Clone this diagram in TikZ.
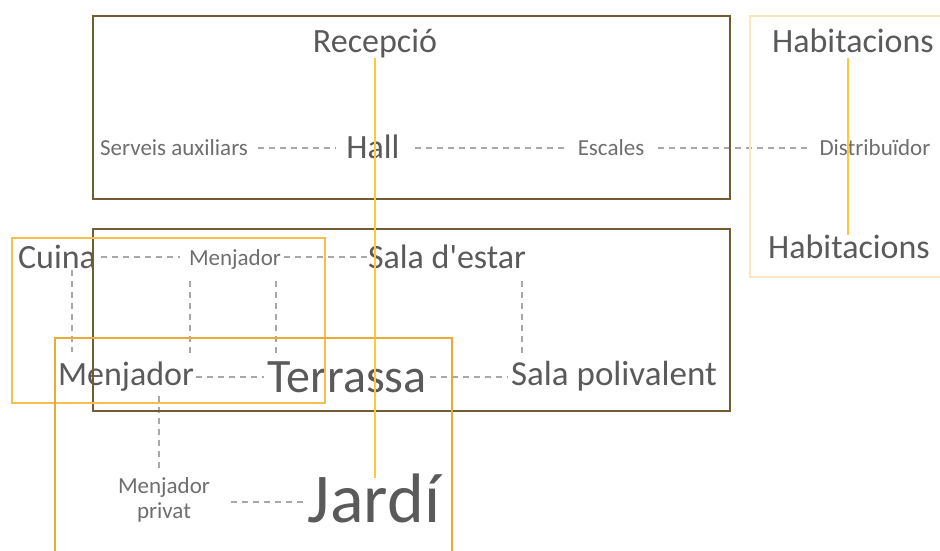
\documentclass[tikz,border=0pt]{standalone}
\usepackage{fontspec}
\setmainfont{Carlito}
\usetikzlibrary{calc}
\definecolor{txt}{HTML}{5A5A5A}
\definecolor{txts}{HTML}{6E6E6E}
\definecolor{dashc}{HTML}{A8A8A8}
\definecolor{brownc}{HTML}{715C33}
\definecolor{habc}{HTML}{FCE7BC}
\definecolor{cuinac}{HTML}{F6BE4F}
\definecolor{jardc}{HTML}{E9AA3A}
\definecolor{ylinec}{HTML}{FFC73A}
\newcommand{\straightquote}{\XeTeXglyph\XeTeXcharglyph"27\relax}
\begin{document}
\begin{tikzpicture}[x=1pt,y=-1pt,
  lbl/.style={inner sep=0pt, anchor=base, text=txt},
  big/.style={lbl, font=\fontsize{34}{40}\selectfont},
  small/.style={lbl, text=txts, font=\fontsize{23}{25}\selectfont},
  conn/.style={draw=dashc, line width=1.1pt, dash pattern=on 6pt off 5pt},
  brownbox/.style={draw=brownc, line width=1.3pt},
  habbox/.style={draw=habc, line width=1.3pt},
  cuinabox/.style={draw=cuinac, line width=1.3pt},
  jardbox/.style={draw=jardc, line width=1.3pt},
  yline/.style={draw=ylinec, line width=1.8pt}]
\useasboundingbox (0,0) rectangle (940,550);
\clip (0,0) rectangle (940,550);

% helper coordinates
\coordinate (yA) at (0,148);
\coordinate (yB) at (0,257);
\coordinate (yC) at (0,377);
\coordinate (yD) at (0,502);
\coordinate (x72) at (72,0);
\coordinate (x190) at (190,0);
\coordinate (x276) at (276,0);
\coordinate (x522) at (522,0);
\coordinate (x159) at (159,0);
\coordinate (x848) at (848,0);

% labels
\node[big] (recep) at (375,52) {Recepció};
\node[big] (hall) at (373,158) {Hall};
\node[small] (serv) at (174,155) {Serveis auxiliars};
\node[small] (esc) at (611,155) {Escales};
\node[small] (distr) at (875,155) {Distribuïdor};
\node[big] (habA) at (853,52) {Habitacions};
\node[big] (habB) at (849,258) {Habitacions};
\node[big] (cuina) at (57,268) {Cuina};
\node[small] (menA) at (235,265) {Menjador};
\node[big] (sala) at (447,268) {Sala d\straightquote estar};
\node[big] (menB) at (126,385) {Menjador};
\node[lbl, font=\fontsize{48}{54}\selectfont] (terr) at (347,392) {Terrassa};
\node[lbl, font=\fontsize{35}{40}\selectfont] (salap) at (614,385) {Sala polivalent};
\node[small, anchor=center, align=center] (priv) at (164,500) {Menjador\\privat};
\node[lbl, font=\fontsize{70}{80}\selectfont] (jardi) at (374,522) {Jardí};

% dashed connectors
\draw[conn, shorten <=10pt, shorten >=10pt] (serv.east |- yA) -- (hall.west |- yA);
\draw[conn, shorten <=15pt, shorten >=11pt] (hall.east |- yA) -- (esc.west |- yA);
\draw[conn, shorten <=14pt, shorten >=9pt] (esc.east |- yA) -- (distr.west |- yA);
\draw[conn, shorten <=5pt, shorten >=9pt] (cuina.east |- yB) -- (menA.west |- yB);
\draw[conn, shorten <=3pt, shorten >=1pt] (menA.east |- yB) -- (sala.west |- yB);
\draw[conn, shorten <=2pt, shorten >=3pt] (menB.east |- yC) -- (terr.west |- yC);
\draw[conn, shorten <=3pt, shorten >=3pt] (terr.east |- yC) -- (salap.west |- yC);
\draw[conn, shorten <=21pt] (priv.east |- yD) -- (jardi.west |- yD);

\draw[conn] ($(cuina.base -| x72)+(0,2)$) -- ($(menB.base -| x72)+(0,-33)$);
\draw[conn] ($(menA.base -| x190)+(0,16)$) -- ($(menB.base -| x190)+(0,-28)$);
\draw[conn] ($(menA.base -| x276)+(0,16)$) -- ($(terr.base -| x276)+(0,-35)$);
\draw[conn] ($(sala.base -| x522)+(0,13)$) -- ($(salap.base -| x522)+(0,-27)$);
\draw[conn] ($(menB.base -| x159)+(0,11)$) -- ($(priv.center -| x159)+(0,-28)$);

% boxes
\draw[brownbox] (93,16) rectangle (730,199);
\draw[brownbox] (93,229) rectangle (730,411);
\draw[habbox] (750,16) rectangle (948,277);
\draw[cuinabox] (12,238) rectangle (325,403);
\draw[jardbox] (55,338) rectangle (452,560);

% yellow axes
\draw[yline] ($(recep.base)+(0,6)$) -- ($(jardi.base -| recep.base)+(0,-44)$);
\draw[yline] ($(habA.base -| x848)+(0,6)$) -- ($(habB.base -| x848)+(0,-23)$);
\end{tikzpicture}
\end{document}
